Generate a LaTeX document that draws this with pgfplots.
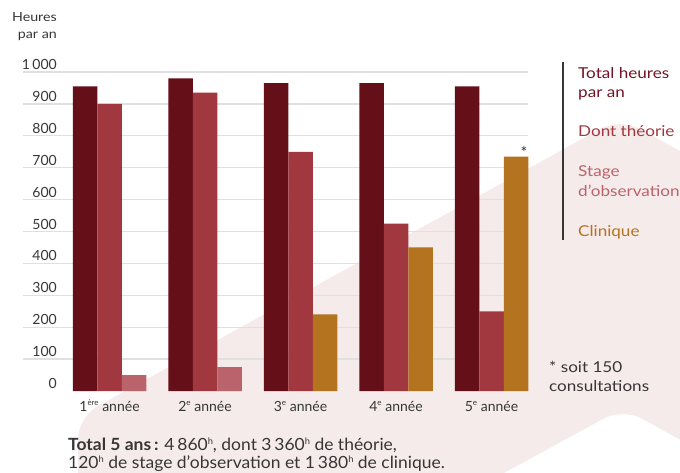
\documentclass[border=0pt]{standalone}
\usepackage{fontspec}
\setmainfont{Lato}
\newfontfamily\wide{Lato}[FakeStretch=1.14]
\newfontfamily\widec{Lato}[FakeStretch=1.04]
\usepackage{pgfplots}
\pgfplotsset{compat=1.18}

\definecolor{total}{HTML}{650F19}
\definecolor{theorie}{HTML}{A2383F}
\definecolor{stage}{HTML}{BB636B}
\definecolor{clinique}{HTML}{B4731E}
\definecolor{gridc}{HTML}{E0E0E3}
\definecolor{txt}{HTML}{363636}
\definecolor{fond}{HTML}{F5EBEA}
\definecolor{legtotal}{HTML}{701526}

% small raised exponent, as in "1ère" and "860h"
\newcommand\ex[3]{\raisebox{#2pt}{\fontsize{#3}{#3}\selectfont #1}}

% years 1..5 at x = 0..4
\pgfplotstableread{
x  total theorie
0  955   900
1  980   935
2  965   750
3  965   525
4  955   250
}\heures
\pgfplotstableread{
x  stage
0  50
1  75
}\stage
\pgfplotstableread{
x  clinique
2  240
3  450
4  735
}\clinique

\begin{document}
\begin{tikzpicture}[x=1pt,y=1pt]
\path[use as bounding box] (0,0) rectangle (680,472);
% background shape
\fill[fond, rounded corners=22pt] (78,-40) -- (78,55) -- (620,354) -- (720,299) -- (720,10) -- (623,64) -- (440,-36) -- cycle;

\begin{axis}[
  at={(23pt,81pt)}, anchor=south west,
  scale only axis, width=505pt, height=319pt,
  xmin=-0.906, xmax=4.382, ymin=0, ymax=1000,
  clip=false,
  axis line style={draw=none},
  major tick length=0pt,
  ytick={100,200,...,1000},
  extra y ticks={0},
  extra y tick style={grid=none},
  ymajorgrids,
  grid style={gridc, line width=1.3pt},
  /pgf/number format/assume math mode=true,
  /pgf/number format/1000 sep={\,},
  yticklabel style={font=\fontsize{14}{16}\selectfont, text=txt, anchor=base east, inner sep=0pt, xshift=34pt, yshift=2.5pt},
  xtick={0,...,4},
  xticklabels={1\ex{ère}{5.2}{8} année, 2\ex{e}{5.2}{8} année, 3\ex{e}{5.2}{8} année, 4\ex{e}{5.2}{8} année, 5\ex{e}{5.2}{8} année},
  xticklabel style={font=\fontsize{14}{16}\selectfont, text=txt, anchor=base, inner sep=0pt, yshift=-20pt},
  ybar, bar width=24.5pt,
]
\addplot[draw=none, fill=total, bar shift=-24.5pt] table[x=x, y=total] {\heures};
\addplot[draw=none, fill=theorie, bar shift=0pt] table[x=x, y=theorie] {\heures};
\addplot[draw=none, fill=stage, bar shift=24.5pt] table[x=x, y=stage] {\stage};
\addplot[draw=none, fill=clinique, bar shift=24.5pt] table[x=x, y=clinique] {\clinique};
\end{axis}

% y axis title
\begin{scope}[font=\wide\fontsize{12.5}{14}\selectfont, text=txt]
\node[anchor=base east, inner sep=0pt] at (57,450) {Heures};
\node[anchor=base east, inner sep=0pt] at (57,433) {par an};
\end{scope}

% asterisk
\node[text=txt, font=\fontsize{16}{16}\selectfont, inner sep=0pt] at (524,320) {*};

% legend
\draw[txt, line width=1.5pt] (563,410) -- (563,232);
\begin{scope}[font=\wide\fontsize{15}{18}\selectfont]
\node[anchor=base west, inner sep=0pt, text=legtotal] at (578,393) {Total heures};
\node[anchor=base west, inner sep=0pt, text=legtotal] at (578,374) {par an};
\node[anchor=base west, inner sep=0pt, text=theorie] at (578,335) {Dont théorie};
\node[anchor=base west, inner sep=0pt, text=stage] at (578,295) {Stage};
\node[anchor=base west, inner sep=0pt, text=stage] at (578,276) {d’observation};
\node[anchor=base west, inner sep=0pt, text=clinique] at (578,236) {Clinique};
\end{scope}

% footnote
\begin{scope}[font=\wide\fontsize{15}{18}\selectfont, text=txt]
\node[anchor=base west, inner sep=0pt] at (549,100) {* soit 150};
\node[anchor=base west, inner sep=0pt] at (549,81) {consultations};
\end{scope}

% total
\begin{scope}[font=\widec\fontsize{16.8}{19}\selectfont, text=txt]
\node[anchor=base west, inner sep=0pt] at (68,22) {\textbf{Total 5 ans\,:} 4\,860\ex{h}{6}{9}, dont 3\,360\ex{h}{6}{9} de théorie,};
\node[anchor=base west, inner sep=0pt] at (68,3.5) {120\ex{h}{6}{9} de stage d’observation et 1\,380\ex{h}{6}{9} de clinique.};
\end{scope}
\end{tikzpicture}
\end{document}
